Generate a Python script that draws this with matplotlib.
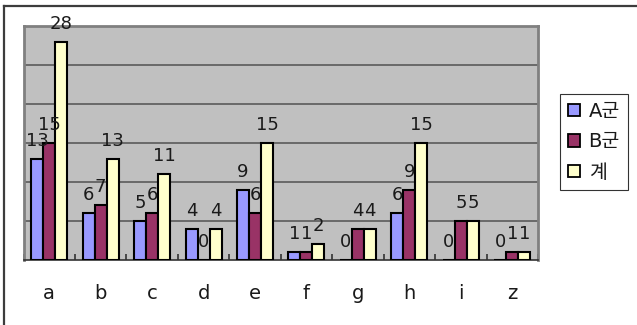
import matplotlib
matplotlib.use("Agg")
import matplotlib.pyplot as plt
from matplotlib.patches import Patch
from matplotlib.lines import Line2D
import numpy as np

categories = ["a", "b", "c", "d", "e", "f", "g", "h", "i", "z"]
group_a = [13, 6, 5, 4, 9, 1, 0, 6, 0, 0]
group_b = [15, 7, 6, 0, 6, 1, 4, 9, 5, 1]
total = [28, 13, 11, 4, 15, 2, 4, 15, 5, 1]
series_names = ["A군", "B군", "계"]
series_colors = ["#9999FF", "#993366", "#FFFFCC"]

W, H = 637, 325
fig = plt.figure(figsize=(W / 100, H / 100), dpi=100)
fig.patch.set_facecolor("white")

fonts = ["DejaVu Sans", "Noto Sans CJK KR"]
plt.rcParams["font.family"] = fonts

# chart-area frame (left and top edges)
fig.add_artist(Line2D([4 / W, 4 / W], [0, 1 - 6 / H], color="#3c3c3c", lw=1.6,
                      transform=fig.transFigure))
fig.add_artist(Line2D([4 / W, 1], [1 - 6 / H, 1 - 6 / H], color="#3c3c3c", lw=1.6,
                      transform=fig.transFigure))

left, right, top, bottom = 23.5, 538, 26, 260
ax = fig.add_axes([left / W, 1 - bottom / H, (right - left) / W, (bottom - top) / H])
ax.set_facecolor("#C0C0C0")

x = np.arange(len(categories))
width = 0.233
series = [group_a, group_b, total]
for i, (vals, col, name) in enumerate(zip(series, series_colors, series_names)):
    pos = x + (i - 1) * width
    ax.bar(pos, vals, width, color=col, edgecolor="black", linewidth=1.5,
           label=name, zorder=3)
    for xp, v in zip(pos, vals):
        ax.annotate(str(v), (xp, v), xytext=(0, 9.4), textcoords="offset points",
                    ha="center", va="baseline", fontsize=13, color="#1a1a1a",
                    zorder=4)

ax.set_xlim(-0.5, len(categories) - 0.5)
ax.set_ylim(0, 30)
for g in [5, 10, 15, 20, 25]:
    ax.axhline(g, color="#5a5a5a", lw=1.2, zorder=1)

ax.set_yticks([])
ax.set_xticks(x)
ax.set_xticklabels(categories, fontsize=14, color="#1a1a1a")
ax.tick_params(axis="x", length=0, pad=17)
# category boundary tick marks pointing into the plot
ax.set_xticks(np.arange(-0.5, len(categories), 1.0), minor=True)
ax.tick_params(axis="x", which="minor", direction="in", length=4, width=1.2,
               color="#333333")

for s in ["top", "left", "right"]:
    ax.spines[s].set_color("#808080")
    ax.spines[s].set_linewidth(2)
ax.spines["bottom"].set_color("#333333")
ax.spines["bottom"].set_linewidth(1.2)

handles = [Patch(facecolor=c, edgecolor="black", linewidth=1.3) for c in series_colors]
leg = fig.legend(handles, series_names, loc="upper left",
                 bbox_to_anchor=(560 / W, 1 - 94 / H), fontsize=14,
                 frameon=True, fancybox=False, edgecolor="black",
                 handlelength=0.6, handleheight=0.6, handletextpad=0.45,
                 labelspacing=0.58, borderpad=0.42, borderaxespad=0)
leg.get_frame().set_linewidth(0.8)
for t in leg.get_texts():
    t.set_color("#1a1a1a")

fig.savefig("out.png", dpi=100)
